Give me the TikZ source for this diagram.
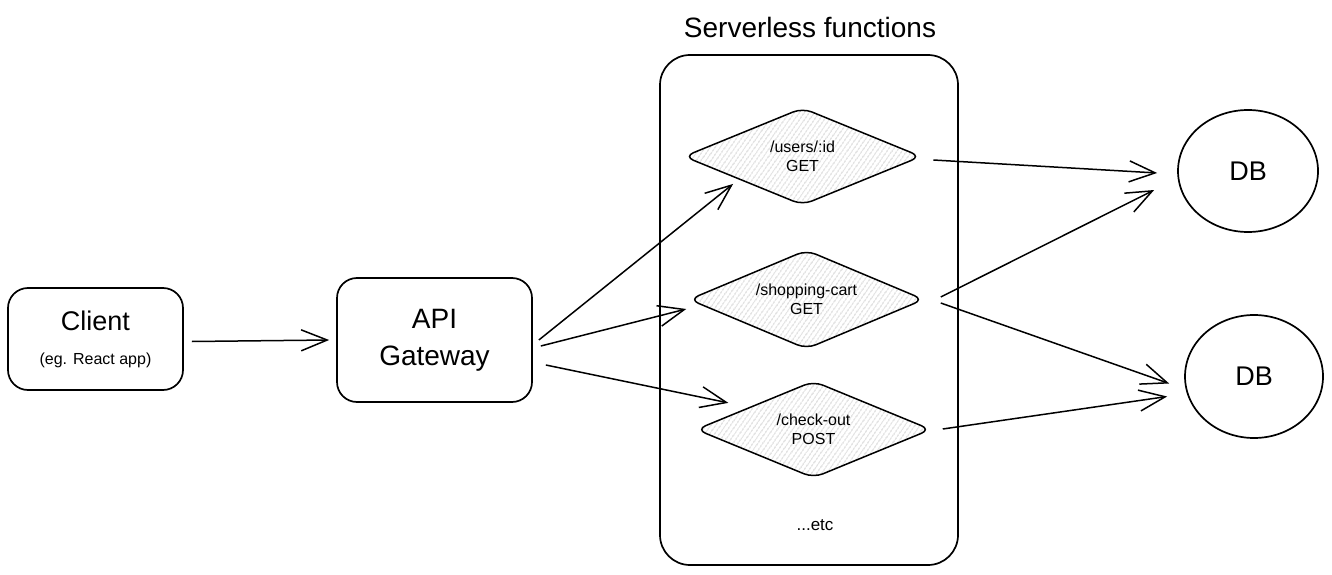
\documentclass[tikz,border=0pt]{standalone}
\usepackage{fontspec}
\setmainfont{Liberation Sans}
\usetikzlibrary{arrows.meta,shapes.geometric,patterns.meta}

\begin{document}
\begin{tikzpicture}[x=1pt,y=-1pt,
        box/.style={draw, line width=1.7pt, rounded corners=20pt, align=center, inner sep=0pt},
        func/.style={diamond, draw, line width=1.5pt, rounded corners=10pt, aspect=2.4, inner sep=0pt,
            align=center, font=\fontsize{16}{19}\selectfont,
            pattern={Lines[angle=55,distance=4pt,line width=0.7pt]}, pattern color=black!30},
        db/.style={ellipse, draw, line width=1.7pt, font=\fontsize{27}{30}\selectfont},
        arr/.style={-{Straight Barb[length=26pt,width=21pt]}, line width=1.5pt}]
        \useasboundingbox (0,0) rectangle (1332,575);

        \node[box, minimum width=175pt, minimum height=102pt, font=\fontsize{27}{32}\selectfont] (client) at (95.5,339) {Client\\[2pt]{\fontsize{16}{20}\selectfont (eg. React app)}};
        \node[box, minimum width=195pt, minimum height=124pt, font=\fontsize{28}{37}\selectfont] (api) at (434.5,340) {API\\Gateway};

        \node[draw, line width=1.7pt, rounded corners=30pt, minimum width=298pt, minimum height=510pt] (sls) at (809,310) {};
        \node[font=\fontsize{28}{30}\selectfont] (title) at (810,27) {Serverless functions};

        \node[func, minimum width=237pt, minimum height=97pt] (users) at (802.5,156.5) {/users/:id\\GET};
        \node[func, minimum width=235pt, minimum height=99pt] (cart) at (806.5,299.5) {/shopping-cart\\GET};
        \node[func, minimum width=235pt, minimum height=97pt] (checkout) at (813.5,429.5) {/check-out\\POST};
        \node[font=\fontsize{17}{20}\selectfont] (etc) at (815,525) {...etc};

        \node[db, minimum width=140pt, minimum height=122pt] (db1) at (1248,171) {DB};
        \node[db, minimum width=138pt, minimum height=123pt] (db2) at (1254,376.5) {DB};

        \draw ([shift={(8,2.5)}]client.east) edge[arr] ([shift={(-7,0)}]api.west);
        \draw ([shift={(6,0)}]api.east) edge[arr] ([shift={(-10,3)}]users.south west);
        \draw ([shift={(8,6)}]api.east) edge[arr] ([shift={(-2,9.5)}]cart.west);
        \draw ([shift={(13,25)}]api.east) edge[arr] ([shift={(-26,-2)}]checkout.north west);
        \draw ([shift={(12,3.5)}]users.east) edge[arr] ([shift={(-20,2)}]db1.west);
        \draw ([shift={(16,-2.5)}]cart.east) edge[arr] ([shift={(-23,19)}]db1.west);
        \draw ([shift={(16,3.5)}]cart.east) edge[arr] ([shift={(-15,7)}]db2.west);
        \draw ([shift={(11,-0.5)}]checkout.east) edge[arr] ([shift={(-17,20)}]db2.west);
    \end{tikzpicture}
\end{document}
